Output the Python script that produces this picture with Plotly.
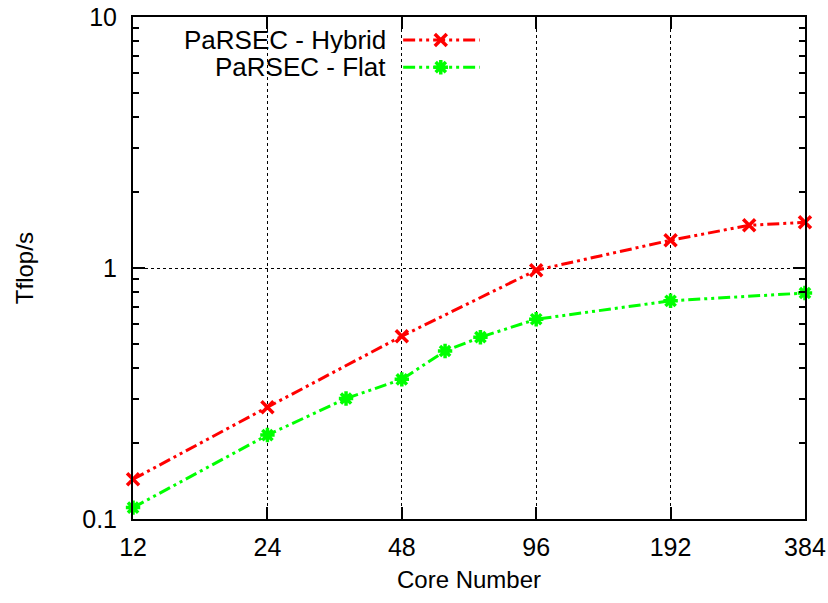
import math
import plotly.graph_objects as go

cores_hybrid = [12, 24, 48, 96, 192, 288, 384]
tflops_hybrid = [0.144, 0.279, 0.535, 0.98, 1.29, 1.48, 1.52]
cores_flat = [12, 24, 36, 48, 60, 72, 96, 192, 384]
tflops_flat = [0.111, 0.216, 0.302, 0.36, 0.467, 0.53, 0.625, 0.74, 0.795]
x_ticks = [12, 24, 48, 96, 192, 384]
y_ticks = [0.1, 1, 10]
y_ticktext = ["0.1", "1", "10"]
y_minor = [0.2, 0.3, 0.4, 0.5, 0.6, 0.7, 0.8, 0.9, 2, 3, 4, 5, 6, 7, 8, 9]
series_names = ["PaRSEC - Hybrid", "PaRSEC - Flat"]
colors = ["#ff0000", "#00ff00"]
symbols = ["x-thin", "asterisk"]

FONT = "Liberation Sans, Arial, Helvetica, sans-serif"
DASH = "12px,4px,3px,4px,3px,4px"
EPS = 1e-4
XR = [math.log10(12) - EPS, math.log10(384) + EPS]
YR = [-1, 1]

fig = go.Figure()
for name, xs, ys, col, sym in zip(series_names, [cores_hybrid, cores_flat],
                                   [tflops_hybrid, tflops_flat], colors, symbols):
    fig.add_trace(go.Scatter(
        x=xs, y=ys, mode="lines+markers", name=name, showlegend=False,
        line=dict(color=col, width=3, dash=DASH),
        marker=dict(symbol=sym, size=12, color=col, line=dict(color=col, width=3.5)),
        cliponaxis=False,
    ))

# manual gnuplot-style legend (text right-aligned, sample to the right)
leg_rows = [0.954, 0.900]
for name, col, sym, yy in zip(series_names, colors, symbols, leg_rows):
    fig.add_annotation(x=0.378, y=yy, xref="paper", yref="paper", text=name,
                       showarrow=False, xanchor="right", yanchor="middle",
                       height=26, borderpad=0, valign="middle",
                       font=dict(family=FONT, size=26, color="black"))
    fig.add_shape(type="line", xref="paper", yref="paper", x0=0.402, x1=0.516,
                  y0=yy, y1=yy, line=dict(color=col, width=3, dash=DASH))
    fig.add_trace(go.Scatter(x=[0.458], y=[yy], xaxis="x2", yaxis="y2", mode="markers",
                             showlegend=False, hoverinfo="skip", cliponaxis=False,
                             marker=dict(symbol=sym, size=12, color=col,
                                         line=dict(color=col, width=3.5))))

# axis titles
fig.add_annotation(x=0.5, y=-0.1215, xref="paper", yref="paper", text="Core Number",
                   showarrow=False, xanchor="center", yanchor="middle",
                   font=dict(family=FONT, size=24, color="black"))
fig.add_annotation(x=-0.162, y=0.5, xref="paper", yref="paper", text="Tflop/s",
                   showarrow=False, xanchor="center", yanchor="middle", textangle=-90,
                   font=dict(family=FONT, size=24, color="black"))

axis_common = dict(showline=True, linecolor="black", linewidth=2, mirror="ticks",
                   ticks="inside", tickcolor="black", tickwidth=1.5, ticklen=12,
                   showgrid=True, gridcolor="black", gridwidth=1, griddash="dot",
                   zeroline=False, automargin=False, ticklabeloverflow="allow",
                   tickfont=dict(family=FONT, size=25, color="black"))

fig.update_layout(
    width=828, height=603,
    margin=dict(l=133, r=23, t=17, b=84),
    paper_bgcolor="white", plot_bgcolor="white",
    xaxis=dict(type="log", range=XR,
               tickvals=x_ticks, ticktext=[str(v) for v in x_ticks],
               ticklabelstandoff=5,
               **axis_common),
    yaxis=dict(type="log", range=YR,
               tickvals=y_ticks, ticktext=y_ticktext,
               ticklabelstandoff=9,
               minor=dict(tickvals=y_minor, ticks="inside", ticklen=6, tickwidth=1.5,
                          tickcolor="black", showgrid=False),
               **axis_common),
    xaxis2=dict(overlaying="x", range=[0, 1], visible=False),
    yaxis2=dict(overlaying="y", range=[0, 1], visible=False),
)

fig.write_html("out.html", config={"displayModeBar": False},
               post_script="document.body.style.margin='0';")
